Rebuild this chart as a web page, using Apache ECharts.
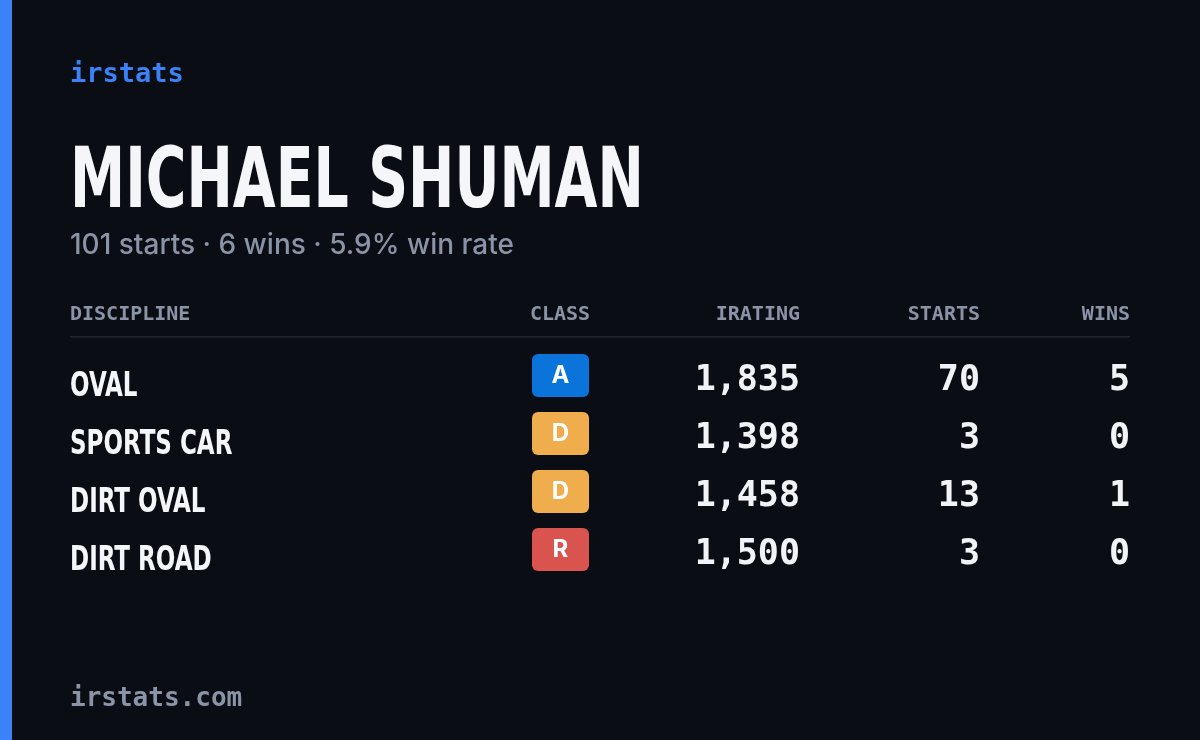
<!DOCTYPE html>
<html><head><meta charset="utf-8">
<script src="https://cdn.jsdelivr.net/npm/echarts@6/dist/echarts.min.js"></script>
<style>html,body{margin:0;background:#0a0d14}#c{width:1200px;height:740px}</style>
</head><body><div id="c"></div>
<script>
const disciplines = ["OVAL", "SPORTS CAR", "DIRT OVAL", "DIRT ROAD"];
const classes = ["A", "D", "D", "R"];
const iratings = [1835, 1398, 1458, 1500];
const starts = [70, 3, 13, 3];
const wins = [5, 0, 1, 0];
const headers = ["DISCIPLINE", "CLASS", "IRATING", "STARTS", "WINS"];

const classColors = { A: "#0a74da", D: "#f0ad4e", R: "#d9534f" };
const mono = "'DejaVu Sans Mono', monospace";
const cond = "'DejaVu Sans Condensed', 'DejaVu Sans', sans-serif";

const chart = echarts.init(document.getElementById("c"));

const headerGraphics = [
    { x: 70, align: "left" }, { x: 560, align: "center" },
    { x: 800, align: "right" }, { x: 980, align: "right" }, { x: 1130, align: "right" }
].map((c, i) => ({
    type: "text", x: c.x, y: 315,
    style: { text: headers[i], fill: "#8b93a7", font: "bold 20px " + mono, align: c.align, verticalAlign: "middle" }
}));

chart.setOption({
    backgroundColor: "#0a0d14",
    grid: { left: 0, right: 0, top: 349, height: 232 },
    xAxis: { type: "value", min: 0, max: 1200, show: false },
    yAxis: { type: "category", data: disciplines, inverse: true, show: false },
    graphic: [
        { type: "rect", shape: { x: 0, y: 0, width: 12, height: 740 }, style: { fill: "#3b82f6" } },
        { type: "text", x: 70, y: 75, style: { text: "irstats", fill: "#3b82f6", font: "bold 27px " + mono, verticalAlign: "middle" } },
        { type: "text", x: 70, y: 183, scaleX: 0.77, scaleY: 1.04, style: { text: "MICHAEL SHUMAN", fill: "#f5f6fa", font: "bold 80px " + cond, verticalAlign: "top", y: 0 }, y: 144 },
        { type: "text", x: 70, y: 246, style: { text: "101 starts · 6 wins · 5.9% win rate", fill: "#8b93a7", font: "500 28px 'Inter', sans-serif", verticalAlign: "middle" } },
        { type: "rect", shape: { x: 70, y: 336, width: 1060, height: 1.5 }, style: { fill: "#1f2430" } },
        { type: "text", x: 70, y: 699, style: { text: "irstats.com", fill: "#8b93a7", font: "bold 26px " + mono, verticalAlign: "middle" } },
        ...headerGraphics
    ],
    series: [{
        type: "custom",
        data: disciplines.map((d, i) => [0, i]),
        renderItem: (params, api) => {
            const i = api.value(1);
            const y = api.coord([0, i])[1];
            const num = (t, x) => ({
                type: "text", x: x, y: y + 3,
                style: { text: t, fill: "#f1f3f7", font: "bold 35px " + mono, align: "right", verticalAlign: "middle" }
            });
            return {
                type: "group",
                children: [
                    { type: "text", x: 70, y: y + 9, scaleX: 0.8, scaleY: 1.05, style: { text: disciplines[i], fill: "#f5f6fa", font: "bold 32px " + cond, verticalAlign: "middle" } },
                    { type: "rect", shape: { x: 532, y: y - 24, width: 57, height: 43, r: 6 }, style: { fill: classColors[classes[i]] } },
                    { type: "text", x: 560.5, y: y - 2, style: { text: classes[i], fill: "#ffffff", font: "bold 24px 'Inter', sans-serif", align: "center", verticalAlign: "middle" } },
                    num(iratings[i].toLocaleString("en-US"), 800),
                    num(String(starts[i]), 980),
                    num(String(wins[i]), 1130)
                ]
            };
        }
    }]
});
</script></body></html>
